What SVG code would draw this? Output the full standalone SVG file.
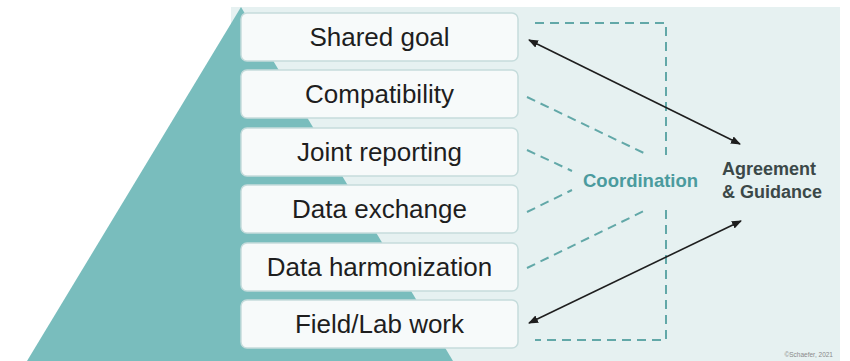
<svg xmlns="http://www.w3.org/2000/svg" width="850" height="361" viewBox="0 0 850 361">
<defs>
<style>
.box{fill:#f7fafa;stroke:#c6dcdc;stroke-width:1.5}
.lbl{font-family:"Liberation Sans",Arial,sans-serif;font-size:26px;fill:#1e1e1e;text-anchor:middle}
.dash{fill:none;stroke:#62a8a8;stroke-width:2;stroke-dasharray:9 6}
.arr{stroke:#1e1e1e;stroke-width:1.6;fill:none;marker-start:url(#ah);marker-end:url(#ah)}
</style>
<marker id="ah" viewBox="0 0 10 8" refX="9" refY="4" markerWidth="10" markerHeight="8" markerUnits="userSpaceOnUse" orient="auto-start-reverse">
<path d="M0,0 L10,4 L0,8 z" fill="#1e1e1e"/>
</marker>
</defs>
<rect x="231" y="7" width="609" height="354" fill="#e6f1f1"/>
<polygon points="241,7 27,361 453,361" fill="#79bdbd"/>
<g id="n1"><rect class="box" x="241" y="13" width="277" height="48" rx="6"/><text class="lbl" x="379.5" y="46">Shared goal</text></g>
<g id="n2"><rect class="box" x="241" y="70" width="277" height="48" rx="6"/><text class="lbl" x="379.5" y="103">Compatibility</text></g>
<g id="n3"><rect class="box" x="241" y="128" width="277" height="48" rx="6"/><text class="lbl" x="379.5" y="161">Joint reporting</text></g>
<g id="n4"><rect class="box" x="241" y="185" width="277" height="48" rx="6"/><text class="lbl" x="379.5" y="218">Data exchange</text></g>
<g id="n5"><rect class="box" x="241" y="243" width="277" height="48" rx="6"/><text class="lbl" x="379.5" y="276">Data harmonization</text></g>
<g id="n6"><rect class="box" x="241" y="300" width="277" height="48" rx="6"/><text class="lbl" x="379.5" y="333">Field/Lab work</text></g>
<g id="coordination"><text x="583" y="187" font-family="Liberation Sans,Arial,sans-serif" font-size="18.5" font-weight="bold" fill="#4b9b9e">Coordination</text></g>
<g id="agreement"><text font-family="Liberation Sans,Arial,sans-serif" font-size="18" font-weight="bold" fill="#3b4848"><tspan x="722" y="175">Agreement</tspan><tspan x="722" y="198">&amp; Guidance</tspan></text></g>
<g id="connectors">
<path class="dash" d="M535,23 H666 V155"/>
<path class="dash" d="M666,210 V340 H535"/>
<path class="dash" d="M527,97 L648,155"/>
<path class="dash" d="M527,150 L572,171"/>
<path class="dash" d="M527,212 L572,190"/>
<path class="dash" d="M527,268 L648,209"/>
<path class="arr" d="M529,40 L740,144"/>
<path class="arr" d="M529,323 L741,221"/>
</g>
<text x="833" y="357" font-family="Liberation Sans,Arial,sans-serif" font-size="6.5" fill="#8a8a8a" text-anchor="end">©Schaefer, 2021</text>
</svg>
